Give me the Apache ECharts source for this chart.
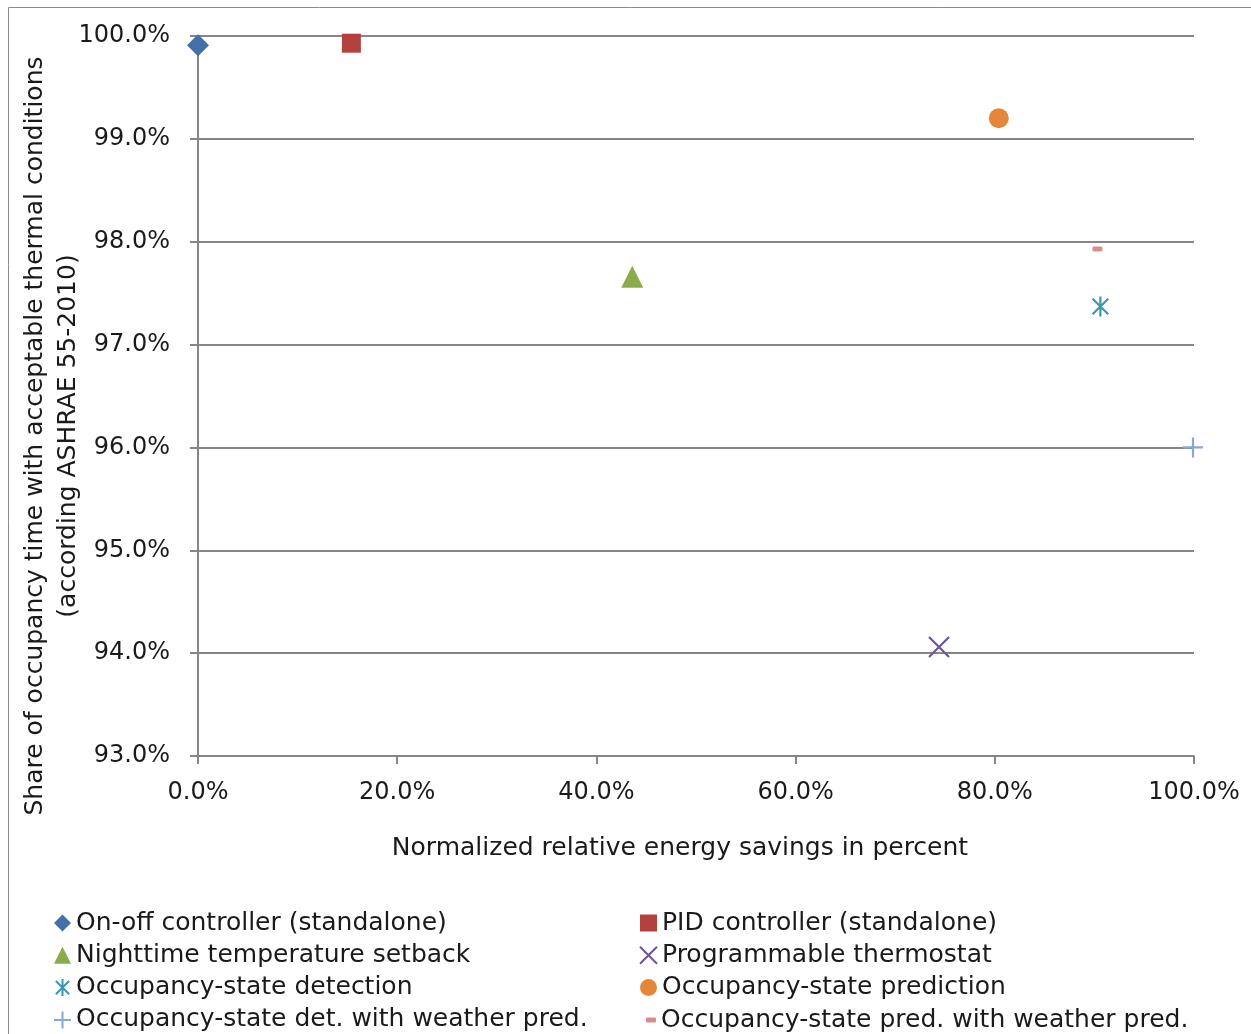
<!DOCTYPE html>
<html>
<head>
<meta charset="utf-8">
<script src="https://cdn.jsdelivr.net/npm/echarts@6/dist/echarts.min.js"></script>
<style>
  html, body { margin: 0; padding: 0; background: #fff; }
  #chart { width: 1251px; height: 1034px; }
</style>
</head>
<body>
<div id="chart"></div>
<script>
// Controller strategies: [energy savings %, share of acceptable time %]
const seriesNames = [
  'On-off controller (standalone)',
  'PID controller (standalone)',
  'Nighttime temperature setback',
  'Programmable thermostat',
  'Occupancy-state detection',
  'Occupancy-state prediction',
  'Occupancy-state det. with weather pred.',
  'Occupancy-state pred. with weather pred.'
];
const energySavings = [0.0, 15.4, 43.6, 74.4, 90.6, 80.4, 99.9, 90.3];
const acceptableShare = [99.91, 99.93, 97.66, 94.06, 97.37, 99.20, 96.00, 97.93];

const xTicks = [0, 20, 40, 60, 80, 100];
const yTicks = [93, 94, 95, 96, 97, 98, 99, 100];

const xTitle = 'Normalized relative energy savings in percent';
const yTitleLines = [
  'Share of occupancy time with acceptable thermal conditions',
  '(according ASHRAE 55-2010)'
];

const FONT = '"DejaVu Sans", "Open Sans", sans-serif';
const GRID_GRAY = '#868686';
const TEXT = '#1a1a1a';

// Marker appearance per strategy
const markers = [
  { symbol: 'diamond', size: 22, color: '#4470A9', stroke: false },
  { symbol: 'rect', size: 19, color: '#B3423F', stroke: false },
  { symbol: 'triangle', size: 22, color: '#8CAC4C', stroke: false },
  { symbol: 'path://M0,0L10,10M10,0L0,10', size: 20, color: '#6D559C', stroke: true },
  { symbol: 'path://M0,0L10,10M10,0L0,10M5,-1.4L5,11.4', size: 20, color: '#3A98B0', stroke: true },
  { symbol: 'circle', size: 20, color: '#E5873A', stroke: false },
  { symbol: 'path://M5,0L5,10M0,5L10,5', size: 20, color: '#8AA6D4', stroke: true },
  { symbol: 'roundRect', size: [10, 5], color: '#D78D8B', stroke: false }
];

const series = seriesNames.map((name, i) => {
  const m = markers[i];
  return {
    name: name,
    type: 'scatter',
    symbol: m.symbol,
    symbolSize: m.size,
    symbolKeepAspect: true,
    itemStyle: m.stroke
      ? { color: 'rgba(0,0,0,0)', borderColor: m.color, borderWidth: 2.2, opacity: 1 }
      : { color: m.color, opacity: 1 },
    emphasis: { disabled: true },
    data: [[energySavings[i], acceptableShare[i]]],
    z: 3
  };
});

const legendText = { fontFamily: FONT, fontSize: 25, color: TEXT, lineHeight: 28 };

const chart = echarts.init(document.getElementById('chart'), null, { renderer: 'canvas' });
chart.setOption({
  backgroundColor: '#ffffff',
  animation: false,
  graphic: [
    {
      type: 'rect',
      shape: { x: 8.5, y: 7.5, width: 1300, height: 1100 },
      style: { fill: 'none', stroke: '#8a8a8a', lineWidth: 1 },
      silent: true,
      z: -10
    },
    // two-line vertical title of the value axis
    {
      type: 'text',
      x: 35, y: 436, rotation: Math.PI / 2,
      style: { text: yTitleLines[0], font: '25px ' + FONT, fill: TEXT, align: 'center', verticalAlign: 'middle' },
      silent: true
    },
    {
      type: 'text',
      x: 68, y: 436, rotation: Math.PI / 2,
      style: { text: yTitleLines[1], font: '25px ' + FONT, fill: TEXT, align: 'center', verticalAlign: 'middle' },
      silent: true
    }
  ],
  grid: { left: 198, right: 57, top: 36, bottom: 278, containLabel: false, outerBoundsMode: 'none' },
  xAxis: {
    type: 'value',
    min: 0, max: 100, interval: 20,
    name: xTitle,
    nameLocation: 'middle',
    nameGap: 80,
    nameTextStyle: { fontFamily: FONT, fontSize: 25, color: TEXT, padding: [0, 32, 0, 0] },
    axisLine: { show: true, lineStyle: { color: GRID_GRAY, width: 2 } },
    axisTick: { show: true, length: 8, lineStyle: { color: GRID_GRAY, width: 2 } },
    axisLabel: {
      fontFamily: FONT, fontSize: 24, color: TEXT, margin: 25,
      formatter: v => xTicks.includes(v) ? v.toFixed(1) + '%' : ''
    },
    splitLine: { show: false }
  },
  yAxis: {
    type: 'value',
    min: 93, max: 100, interval: 1,
    axisLine: { show: true, lineStyle: { color: GRID_GRAY, width: 2 } },
    axisTick: { show: true, length: 8, lineStyle: { color: GRID_GRAY, width: 2 } },
    axisLabel: {
      fontFamily: FONT, fontSize: 24, color: TEXT, margin: 28,
      formatter: v => yTicks.includes(v) ? v.toFixed(1) + '%' : ''
    },
    splitLine: { show: true, lineStyle: { color: GRID_GRAY, width: 2 } }
  },
  legend: [
    {
      orient: 'vertical', left: 53, top: 909, padding: 0,
      itemWidth: 17, itemHeight: 17, itemGap: 4.3, itemTextGap: 6,
      selectedMode: false,
      textStyle: legendText,
      data: [seriesNames[0], seriesNames[2], seriesNames[4], seriesNames[6]]
    },
    {
      orient: 'vertical', left: 639, top: 909, padding: 0,
      itemWidth: 17, itemHeight: 17, itemGap: 4.3, itemTextGap: 11,
      selectedMode: false,
      textStyle: legendText,
      data: [seriesNames[1], seriesNames[3], seriesNames[5]]
    },
    {
      orient: 'vertical', left: 646, top: 1006, padding: 0,
      itemWidth: 10, itemHeight: 5, itemTextGap: 11,
      selectedMode: false,
      textStyle: legendText,
      data: [seriesNames[7]]
    }
  ],
  series: series
});
</script>
</body>
</html>
